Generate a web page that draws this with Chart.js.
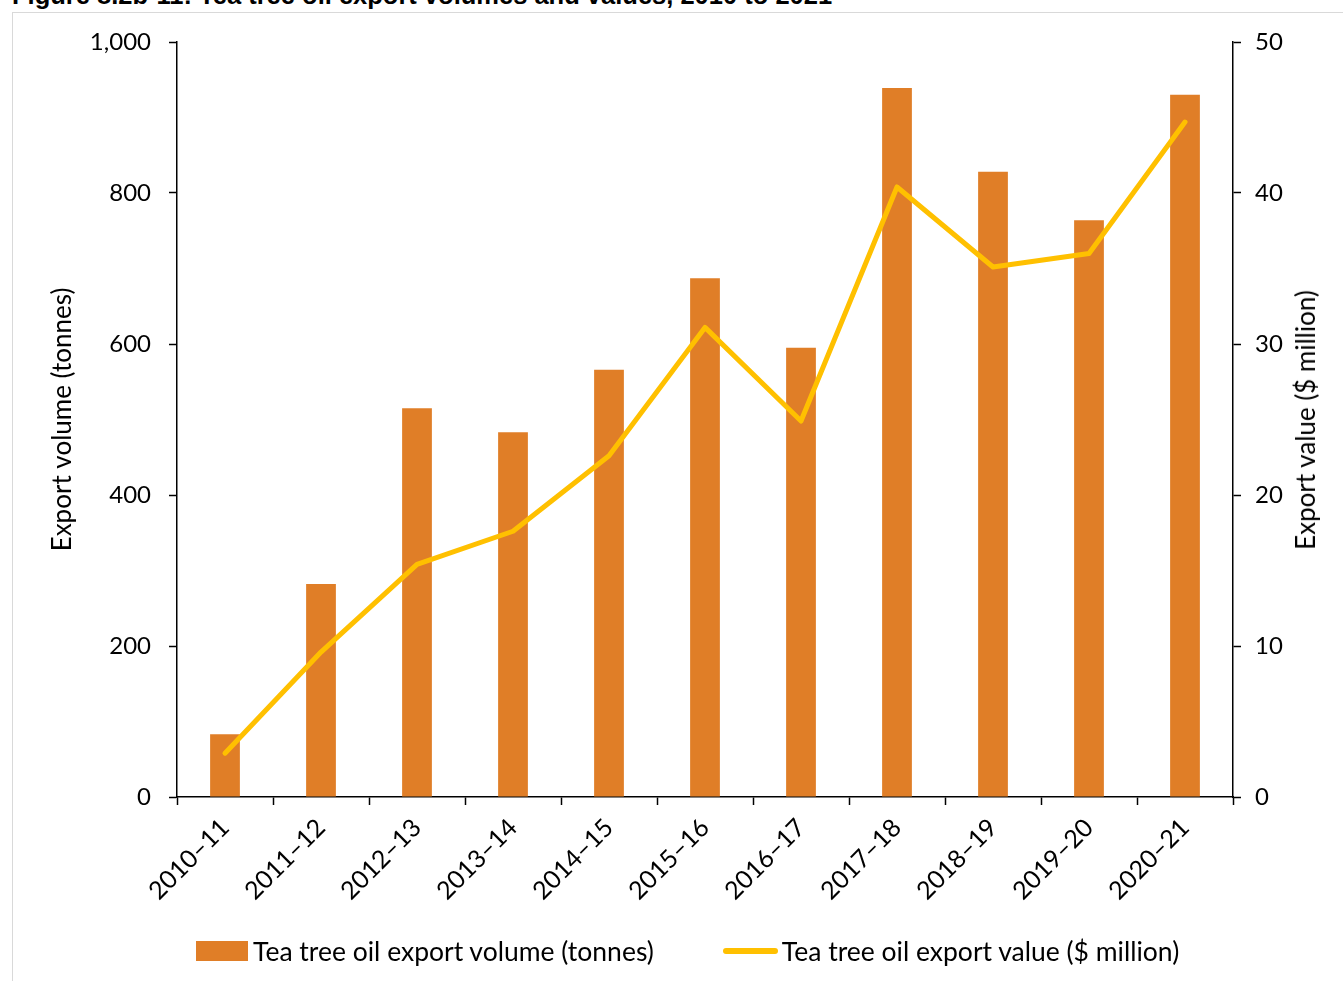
<!DOCTYPE html>
<html lang="en">
  <head>
    <meta charset="UTF-8" />
    <title>Tea tree oil export volumes and values</title>
    <style>
      body {
        margin: 0;
        background: #fff;
        font-family: Lato, "Open Sans", sans-serif;
        overflow: hidden;
      }
      .page {
        position: relative;
        width: 1343px;
        height: 981px;
        overflow: hidden;
      }
      .fig-title {
        position: absolute;
        left: 12px;
        top: -18px;
        font-family: "Liberation Sans", Arial, sans-serif;
        font-weight: bold;
        font-size: 25.5px;
        line-height: 26px;
        white-space: nowrap;
        color: #000;
      }
      .frame {
        position: absolute;
        left: 12px;
        top: 12px;
        width: 1400px;
        height: 1000px;
        border: 1px solid #d9d9d9;
      }
      #teaChart {
        position: absolute;
        left: 0;
        top: 0;
      }
      .right-title {
        position: absolute;
        left: 1305px;
        top: 420px;
        transform: translate(-50%, -50%) rotate(-90deg);
        font-size: 26px;
        white-space: nowrap;
        color: #000;
      }
      .legend {
        position: absolute;
        top: 935px;
        left: 196px;
        display: flex;
        align-items: center;
        font-size: 26.5px;
        color: #000;
        white-space: nowrap;
      }
      .legend .item {
        display: flex;
        align-items: center;
      }
      .legend .box {
        width: 52px;
        height: 20px;
        margin-right: 5px;
      }
      .legend .line {
        width: 55px;
        height: 6px;
        border-radius: 3px;
        margin-right: 4px;
      }
    </style>
  </head>
  <body>
    <div class="page">
      <div class="fig-title">
        Figure 8.2b-11: Tea tree oil export volumes and values, 2010 to 2021
      </div>
      <div class="frame"></div>
      <canvas id="teaChart" width="1343" height="981"></canvas>
      <div class="right-title">Export value ($ million)</div>
      <div class="legend" id="legend"></div>
    </div>

    <script src="https://cdn.jsdelivr.net/npm/chart.js"></script>
    <script>
      const years = [
        "2010–11", "2011–12", "2012–13", "2013–14", "2014–15", "2015–16",
        "2016–17", "2017–18", "2018–19", "2019–20", "2020–21",
      ];
      // export volume, tonnes
      const volume = [83, 282, 515, 483, 566, 687, 595, 939, 828, 764, 930];
      // export value, $ million
      const value = [2.9, 9.6, 15.4, 17.6, 22.6, 31.1, 24.9, 40.4, 35.1, 36.0, 44.7];

      const volumeLabel = "Tea tree oil export volume (tonnes)";
      const valueLabel = "Tea tree oil export value ($ million)";
      const barColour = "#E07E27";
      const lineColour = "#FFC000";

      Chart.defaults.font.family = "Lato, 'Open Sans', sans-serif";
      Chart.defaults.font.size = 24;
      Chart.defaults.color = "#000";

      const tickFont = { size: 24 };
      const xTickFont = { size: 25 };

      const teaChart = new Chart(document.getElementById("teaChart"), {
        data: {
          labels: years,
          datasets: [
            {
              type: "line",
              label: valueLabel,
              data: value,
              yAxisID: "yValue",
              borderColor: lineColour,
              backgroundColor: lineColour,
              borderWidth: 5,
              borderCapStyle: "round",
              borderJoinStyle: "round",
              pointRadius: 0,
              tension: 0,
              order: 0,
            },
            {
              type: "bar",
              label: volumeLabel,
              data: volume,
              yAxisID: "yVolume",
              backgroundColor: barColour,
              categoryPercentage: 1,
              barPercentage: 0.31,
              order: 1,
            },
          ],
        },
        options: {
          responsive: false,
          animation: false,
          layout: { padding: { top: 42, left: 0, right: 0, bottom: 0 } },
          plugins: {
            legend: { display: false },
            tooltip: { enabled: false },
          },
          scales: {
            x: {
              offset: true,
              border: { color: "#000", width: 1.5 },
              grid: {
                display: true,
                offset: true,
                drawOnChartArea: false,
                tickLength: 8,
                tickColor: "#000",
                tickWidth: 1.5,
              },
              ticks: {
                font: xTickFont,
                maxRotation: 45,
                minRotation: 45,
                padding: 8,
              },
              afterFit: (scale) => {
                scale.height = 184;
              },
            },
            yVolume: {
              position: "left",
              min: 0,
              max: 1000,
              border: { color: "#000", width: 1.5 },
              grid: {
                drawOnChartArea: false,
                tickLength: 8,
                tickColor: "#000",
                tickWidth: 1.5,
              },
              ticks: {
                stepSize: 200,
                font: tickFont,
                padding: 18,
                callback: (v) => v.toLocaleString("en-US"),
              },
              title: {
                display: true,
                text: "Export volume (tonnes)",
                font: { size: 26 },
                padding: { top: 47, bottom: 0 },
              },
              afterFit: (scale) => {
                scale.width = 177;
              },
            },
            yValue: {
              position: "right",
              min: 0,
              max: 50,
              border: { color: "#000", width: 1.5 },
              grid: {
                drawOnChartArea: false,
                tickLength: 8,
                tickColor: "#000",
                tickWidth: 1.5,
              },
              ticks: {
                stepSize: 10,
                font: tickFont,
                padding: 14,
              },
              afterFit: (scale) => {
                scale.width = 110;
              },
            },
          },
        },
      });

      // legend built from the datasets, bar first
      const legend = document.getElementById("legend");
      const barSet = teaChart.data.datasets[1];
      const lineSet = teaChart.data.datasets[0];
      legend.innerHTML =
        `<div class="item"><span class="box" style="background:${barSet.backgroundColor}"></span>${barSet.label}</div>` +
        `<div class="item" style="margin-left:69px"><span class="line" style="background:${lineSet.borderColor}"></span>${lineSet.label}</div>`;
    </script>
  </body>
</html>
